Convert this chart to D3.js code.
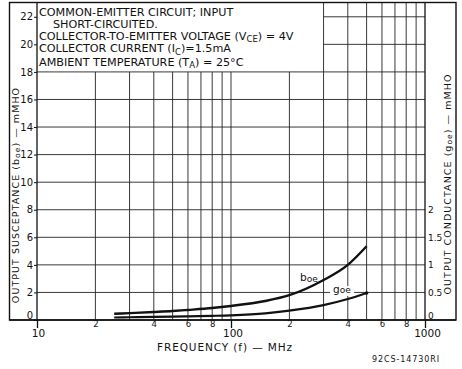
<!DOCTYPE html>
<html>
<head>
<meta charset="utf-8">
<script src="https://cdn.jsdelivr.net/npm/d3@7"></script>
<style>
html,body{margin:0;padding:0;background:#fff;}
svg{display:block;}
text{font-family:"DejaVu Sans",sans-serif;fill:#111;}
</style>
</head>
<body>
<svg id="c" width="462" height="369"></svg>
<script>
// ---- data ----
const freqMHz = [25, 30, 40, 50, 60, 80, 100, 150, 200, 300, 400, 500];
const boe = [0.45, 0.5, 0.58, 0.65, 0.73, 0.87, 1.02, 1.38, 1.8, 2.9, 4.0, 5.35];
const goe = [0.045, 0.05, 0.055, 0.06, 0.065, 0.075, 0.085, 0.12, 0.17, 0.27, 0.38, 0.49];
const leftTicks = [0, 2, 4, 6, 8, 10, 12, 14, 16, 18, 20, 22];
const rightTicks = [0, 0.5, 1, 1.5, 2];
const majorFreq = [10, 100, 1000];
const minorFreqLabels = [20, 40, 60, 80, 200, 400, 600, 800];
const gridFreq = [20, 30, 40, 50, 60, 70, 80, 90, 100, 200, 300, 400, 500, 600, 700, 800, 900];
const noteLines = [
  ["COMMON-EMITTER CIRCUIT; INPUT"],
  ["SHORT-CIRCUITED."],
  ["COLLECTOR-TO-EMITTER VOLTAGE (V", {sub: "CE"}, ") = 4V"],
  ["COLLECTOR CURRENT (I", {sub: "C"}, ")=1.5mA"],
  ["AMBIENT TEMPERATURE (T", {sub: "A"}, ") = 25°C"]
];

const svg = d3.select("#c");
const L = 37, R = 425, B = 320, T = 3;
const x = d3.scaleLog().domain([10, 1000]).range([L, R]);
const y = d3.scaleLinear().domain([0, 23]).range([B, T]);
const yR = d3.scaleLinear().domain([0, 23 / 4]).range([B, T]);
const boxBottom = y(18), boxRight = x(300);

// frame
svg.append("rect").attr("x", 9.5).attr("y", 2.5).attr("width", 446.5).attr("height", B - 2.5)
  .attr("fill", "none").attr("stroke", "#111").attr("stroke-width", 1.4);

const grid = svg.append("g").attr("stroke", "#222").attr("stroke-width", 0.9);
// vertical grid
grid.selectAll("line.v").data(gridFreq).join("line")
  .attr("x1", d => x(d)).attr("x2", d => x(d))
  .attr("y1", B).attr("y2", d => d >= 300 ? T : boxBottom);
// horizontal grid
grid.selectAll("line.h").data(leftTicks.filter(d => d > 0)).join("line")
  .attr("y1", d => y(d)).attr("y2", d => y(d))
  .attr("x1", d => d > 18 ? boxRight : L).attr("x2", R);
// main axis lines
svg.append("line").attr("x1", L).attr("x2", L).attr("y1", T).attr("y2", B).attr("stroke", "#111").attr("stroke-width", 1.3);
svg.append("line").attr("x1", R).attr("x2", R).attr("y1", T).attr("y2", B).attr("stroke", "#111").attr("stroke-width", 1.3);

// left axis
const la = svg.append("g").attr("transform", `translate(${L},0)`)
  .call(d3.axisLeft(y).tickValues(leftTicks).tickSize(3).tickPadding(1).tickFormat(d3.format("d")));
la.select(".domain").remove();
la.selectAll("text").style("font-size", "10px").attr("dy", d => d === 0 ? "-0.15em" : "0.32em");
la.selectAll("line").attr("stroke", "#111");

// right axis
const ra = svg.append("g").attr("transform", `translate(${R},0)`)
  .call(d3.axisRight(yR).tickValues(rightTicks).tickSize(0).tickPadding(3).tickFormat(d => d));
ra.select(".domain").remove();
ra.selectAll("text").style("font-size", "9px").attr("dy", d => d === 0 ? "-0.15em" : "0.32em");

// bottom axis: major
const ba = svg.append("g").attr("transform", `translate(0,${B})`)
  .call(d3.axisBottom(x).tickValues(majorFreq).tickSize(8).tickPadding(2).tickFormat(d3.format("d")));
ba.select(".domain").remove();
ba.selectAll("line").attr("stroke", "#111").attr("stroke-width", 1.3);
ba.selectAll("text").style("font-size", "10.5px").attr("dx", d => d === 1000 ? 2 : (d === 100 ? 1.5 : 1));
// bottom axis: minor labels
const bm = svg.append("g").attr("transform", `translate(0,${B})`)
  .call(d3.axisBottom(x).tickValues(minorFreqLabels).tickSize(0).tickPadding(1)
    .tickFormat(d => String(d).charAt(0)));
bm.select(".domain").remove();
bm.selectAll("text").style("font-size", "8.5px");
// x axis line
svg.append("line").attr("x1", 9.5).attr("x2", 456).attr("y1", B).attr("y2", B).attr("stroke", "#111").attr("stroke-width", 1.4);

// curves
const lineB = d3.line().x((d, i) => x(freqMHz[i])).y(d => y(d)).curve(d3.curveMonotoneX);
const lineG = d3.line().x((d, i) => x(freqMHz[i])).y(d => yR(d)).curve(d3.curveMonotoneX);
svg.append("path").attr("d", lineB(boe)).attr("fill", "none").attr("stroke", "#111").attr("stroke-width", 2.4);
svg.append("path").attr("d", lineG(goe)).attr("fill", "none").attr("stroke", "#111").attr("stroke-width", 2.2);
svg.append("circle").attr("cx", x(freqMHz[freqMHz.length - 1])).attr("cy", yR(goe[goe.length - 1])).attr("r", 1.8).attr("fill", "#111");

// curve labels
const bl = svg.append("text").attr("x", 300).attr("y", 281).style("font-size", "10.5px");
bl.append("tspan").text("b");
bl.append("tspan").text("oe").style("font-size", "9px").attr("dy", 1);
svg.append("rect").attr("x", 330).attr("y", 286).attr("width", 24).attr("height", 10).attr("fill", "#fff");
const gl = svg.append("text").attr("x", 333).attr("y", 293).style("font-size", "10.5px");
gl.append("tspan").text("g");
gl.append("tspan").text("oe").style("font-size", "9px").attr("dy", 0);

// note box text
const noteX = [39, 53, 39, 39, 39];
const noteY = [16, 27.5, 39.5, 52, 65.5];
noteLines.forEach((parts, i) => {
  const t = svg.append("text").attr("x", noteX[i]).attr("y", noteY[i]).style("font-size", "11.2px");
  let sub = false;
  parts.forEach(p => {
    if (typeof p === "string") {
      t.append("tspan").text(p).attr("dy", sub ? -2.5 : 0).style("font-size", "11.2px");
      sub = false;
    } else {
      t.append("tspan").text(p.sub).attr("dy", 2.5).style("font-size", "8.5px");
      sub = true;
    }
  });
});

// axis titles
function vTitle(cx, cy, pre, sym, post) {
  const t = svg.append("text").attr("transform", `translate(${cx},${cy}) rotate(-90)`)
    .attr("text-anchor", "middle").attr("dy", "0.35em").style("font-size", "9.5px")
    .style("letter-spacing", "1.05px");
  t.append("tspan").text(pre);
  t.append("tspan").text(sym);
  t.append("tspan").text("oe").style("font-size", "7.5px").attr("dy", 1.5);
  t.append("tspan").text(post).attr("dy", -1.5);
}
vTitle(15.5, 195, "OUTPUT SUSCEPTANCE (", "b", ") — mMHO");
vTitle(447.5, 184, "OUTPUT CONDUCTANCE (", "g", ") — mMHO");

// x title and code
svg.append("text").attr("x", 225).attr("y", 351).attr("text-anchor", "middle").style("font-size", "10.5px")
  .style("letter-spacing", "0.9px").text("FREQUENCY (f) — MHz");
svg.append("text").attr("x", 440).attr("y", 362).attr("text-anchor", "end").style("font-size", "8px")
  .style("letter-spacing", "0.9px").text("92CS-14730RI");
</script>
</body>
</html>
